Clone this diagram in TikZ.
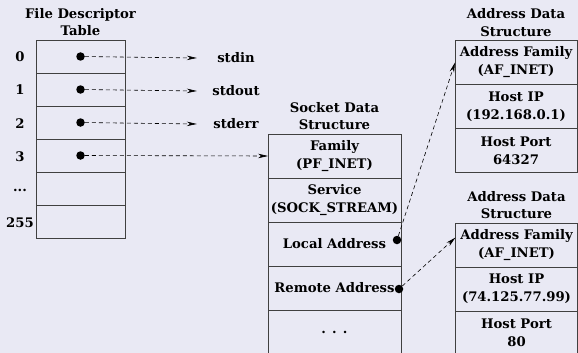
\documentclass[tikz,border=0pt]{standalone}
\usepackage{fontspec}
\setmainfont{DejaVu Serif}
\usetikzlibrary{arrows.meta, positioning}
\definecolor{bgcolor}{RGB}{233,233,244}
\tikzset{
    >=Stealth,
    x=1pt, y=-1pt,
    cell/.style={
        rectangle,
        draw=black!75,
        line width=0.8pt,
        inner sep=0pt,
        outer sep=0pt,
        align=center,
        font=\bfseries\fontsize{13.2}{18}\selectfont
    },
    fd_cell/.style={cell, minimum width=89pt, minimum height=33pt},
    sock_cell/.style={cell, minimum width=133pt, minimum height=44pt},
    addr_cell/.style={cell, minimum width=122pt, minimum height=44pt},
    box_title/.style={
        align=center,
        inner sep=0pt,
        font=\bfseries\fontsize{13.2}{17.5}\selectfont
    },
    fd_index/.style={inner sep=0pt, font=\bfseries\fontsize{13.2}{17}\selectfont},
    stream/.style={inner sep=0pt, minimum width=78pt, align=center,
        font=\bfseries\fontsize{13.2}{17}\selectfont},
    ptr_dot/.style={circle, fill=black, inner sep=0pt, minimum size=8.5pt},
    ptr_arrow/.style={
        -{Stealth[length=10pt, width=4.5pt]},
        line width=0.6pt,
        dash pattern=on 4pt off 3pt
    }
}

\begin{document}
\begin{tikzpicture}

\fill[bgcolor] (0,0) rectangle (578,353);
\useasboundingbox (0,0) rectangle (578,353);

% File descriptor table
\node[fd_cell] (fd0) at (80.5,56.5) {};
\node[fd_cell, below=0pt of fd0] (fd1) {};
\node[fd_cell, below=0pt of fd1] (fd2) {};
\node[fd_cell, below=0pt of fd2] (fd3) {};
\node[fd_cell, below=0pt of fd3] (fd4) {};
\node[fd_cell, below=0pt of fd4] (fd5) {};
\node[box_title, above=4pt of fd0] (fdTitle) {File Descriptor\\Table};

\node[fd_index] (idx0) at (20,57) {0};
\node[fd_index] (idx1) at (20,90) {1};
\node[fd_index] (idx2) at (20,124) {2};
\node[fd_index] (idx3) at (20,157) {3};
\node[fd_index] (idx4) at (20,190) {...};
\node[fd_index] (idx5) at (20,223) {255};

\node[ptr_dot] (dot0) at (fd0) {};
\node[ptr_dot] (dot1) at (fd1) {};
\node[ptr_dot] (dot2) at (fd2) {};
\node[ptr_dot] (dot3) at (fd3) {};

\node[stream] (stdin) at (236,58) {stdin};
\node[stream] (stdout) at (236,91) {stdout};
\node[stream] (stderr) at (236,124) {stderr};

% Socket data structure
\node[sock_cell] (sock0) at (334.5,156) {Family\\(PF\_INET)};
\node[sock_cell, below=0pt of sock0] (sock1) {Service\\(SOCK\_STREAM)};
\node[sock_cell, below=0pt of sock1] (sock2) {Local Address};
\node[sock_cell, below=0pt of sock2] (sock3) {Remote Address};
\node[sock_cell, below=0pt of sock3] (sock4) {. . .};
\node[box_title, above=4pt of sock0] (sockTitle) {Socket Data\\Structure};

\node[ptr_dot] (dotLocal) at (397,240) {};
\node[ptr_dot] (dotRemote) at (399,289) {};

% Address data structures
\node[addr_cell] (addrA0) at (516,62.5) {Address Family\\(AF\_INET)};
\node[addr_cell, below=0pt of addrA0] (addrA1) {Host IP\\(192.168.0.1)};
\node[addr_cell, below=0pt of addrA1] (addrA2) {Host Port\\64327};
\node[box_title, above=4pt of addrA0] (addrATitle) {Address Data\\Structure};

\node[addr_cell] (addrB0) at (516.5,245) {Address Family\\(AF\_INET)};
\node[addr_cell, below=0pt of addrB0] (addrB1) {Host IP\\(74.125.77.99)};
\node[addr_cell, below=0pt of addrB1] (addrB2) {Host Port\\80};
\node[box_title, above=4pt of addrB0] (addrBTitle) {Address Data\\Structure};

% Pointers
\draw[ptr_arrow] (dot0) -- (stdin.west);
\draw[ptr_arrow] (dot1) -- (stdout.west);
\draw[ptr_arrow] (dot2) -- (stderr.west);
\draw[ptr_arrow] (dot3) -- (sock0.west);
\draw[ptr_arrow] (dotLocal) -- (addrA0.west);
\draw[ptr_arrow] (dotRemote) -- (addrB0.173);

\end{tikzpicture}
\end{document}
